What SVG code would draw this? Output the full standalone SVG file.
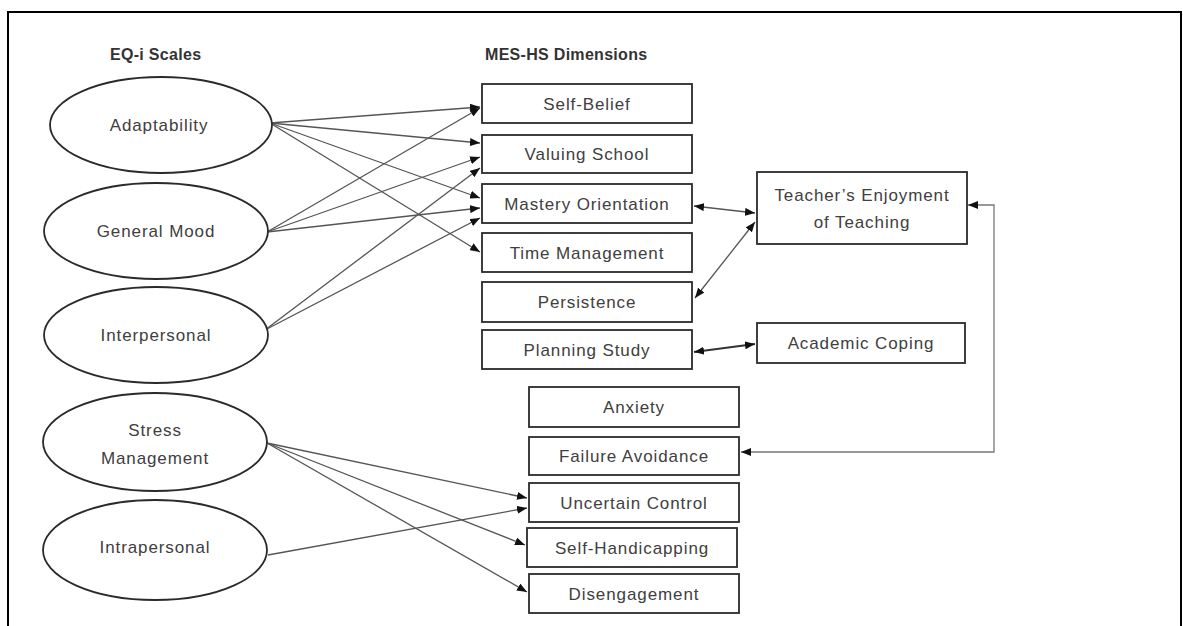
<svg xmlns="http://www.w3.org/2000/svg" width="1183" height="626" viewBox="0 0 1183 626">
<style>
.frame{fill:none;stroke:#000;stroke-width:2}
.ell{fill:#fff;stroke:#2a2a2a;stroke-width:1.8}
.box{fill:#fff;stroke:#2a2a2a;stroke-width:1.8}
.t{font-family:"Liberation Sans",Arial,sans-serif;font-size:17px;letter-spacing:0.9px;fill:#404040;text-anchor:middle}
.h{font-family:"Liberation Sans",Arial,sans-serif;font-size:16px;letter-spacing:0.3px;font-weight:bold;fill:#333}
.e{fill:none;stroke:#555;stroke-width:1.3}
.e2{fill:none;stroke:#333;stroke-width:2}
.e3{fill:none;stroke:#777;stroke-width:1.3}
</style>
<defs>
<marker id="ah" viewBox="0 0 10 8" refX="10" refY="4" markerWidth="10" markerHeight="8" markerUnits="userSpaceOnUse" orient="auto-start-reverse">
<path d="M0,0 L10,4 L0,8 Z" fill="#111"/>
</marker>
</defs>
<rect width="1183" height="626" fill="#fff"/>
<path class="frame" d="M8,626 V12 H1181 V626"/>
<text class="h" x="110" y="60">EQ-i Scales</text>
<text class="h" x="485" y="60">MES-HS Dimensions</text>

<g id="connectors">
<line class="e" x1="270" y1="123" x2="480" y2="107" marker-end="url(#ah)"/>
<line class="e" x1="270" y1="123" x2="480" y2="143" marker-end="url(#ah)"/>
<line class="e" x1="270" y1="123" x2="480" y2="198" marker-end="url(#ah)"/>
<line class="e" x1="270" y1="123" x2="480" y2="252" marker-end="url(#ah)"/>
<line class="e" x1="267" y1="232" x2="480" y2="108" marker-end="url(#ah)"/>
<line class="e" x1="267" y1="232" x2="480" y2="157" marker-end="url(#ah)"/>
<line class="e" x1="267" y1="232" x2="480" y2="208" marker-end="url(#ah)"/>
<line class="e" x1="265" y1="330" x2="480" y2="168" marker-end="url(#ah)"/>
<line class="e" x1="265" y1="330" x2="480" y2="218" marker-end="url(#ah)"/>
<line class="e" x1="267" y1="443" x2="527" y2="498" marker-end="url(#ah)"/>
<line class="e" x1="267" y1="443" x2="525" y2="545" marker-end="url(#ah)"/>
<line class="e" x1="267" y1="443" x2="527" y2="592" marker-end="url(#ah)"/>
<line class="e" x1="268" y1="555" x2="527" y2="508" marker-end="url(#ah)"/>
<line class="e" x1="694" y1="206" x2="755" y2="213" marker-start="url(#ah)" marker-end="url(#ah)"/>
<line class="e" x1="695" y1="298" x2="755" y2="222" marker-start="url(#ah)" marker-end="url(#ah)"/>
<line class="e2" x1="694" y1="352" x2="755" y2="344" marker-start="url(#ah)" marker-end="url(#ah)"/>
<path class="e3" d="M968,205 H994 V452 H741" marker-start="url(#ah)" marker-end="url(#ah)"/>
</g>

<g id="adaptability"><ellipse class="ell" cx="161" cy="125" rx="111" ry="48"/><text class="t" x="159" y="131">Adaptability</text></g>
<g id="general-mood"><ellipse class="ell" cx="156" cy="231" rx="112" ry="48"/><text class="t" x="156" y="237">General Mood</text></g>
<g id="interpersonal"><ellipse class="ell" cx="156" cy="335" rx="112" ry="48"/><text class="t" x="156" y="341">Interpersonal</text></g>
<g id="stress-management"><ellipse class="ell" cx="155" cy="442" rx="112" ry="49"/><text class="t" x="155" y="436">Stress</text><text class="t" x="155" y="464">Management</text></g>
<g id="intrapersonal"><ellipse class="ell" cx="155" cy="550" rx="112" ry="50"/><text class="t" x="155" y="553">Intrapersonal</text></g>

<g id="self-belief"><rect class="box" x="482" y="84" width="210" height="39"/><text class="t" x="587" y="110">Self-Belief</text></g>
<g id="valuing-school"><rect class="box" x="482" y="135" width="210" height="38"/><text class="t" x="587" y="160">Valuing School</text></g>
<g id="mastery-orientation"><rect class="box" x="482" y="184" width="210" height="39"/><text class="t" x="587" y="210">Mastery Orientation</text></g>
<g id="time-management"><rect class="box" x="482" y="233" width="210" height="39"/><text class="t" x="587" y="259">Time Management</text></g>
<g id="persistence"><rect class="box" x="482" y="282" width="210" height="40"/><text class="t" x="587" y="308">Persistence</text></g>
<g id="planning-study"><rect class="box" x="482" y="330" width="210" height="39"/><text class="t" x="587" y="356">Planning Study</text></g>
<g id="teachers-enjoyment"><rect class="box" x="757" y="172" width="210" height="72"/><text class="t" x="862" y="201">Teacher’s Enjoyment</text><text class="t" x="862" y="228">of Teaching</text></g>
<g id="academic-coping"><rect class="box" x="757" y="323" width="208" height="40"/><text class="t" x="861" y="349">Academic Coping</text></g>
<g id="anxiety"><rect class="box" x="529" y="387" width="210" height="40"/><text class="t" x="634" y="413">Anxiety</text></g>
<g id="failure-avoidance"><rect class="box" x="529" y="437" width="210" height="38"/><text class="t" x="634" y="462">Failure Avoidance</text></g>
<g id="uncertain-control"><rect class="box" x="529" y="483" width="210" height="39"/><text class="t" x="634" y="509">Uncertain Control</text></g>
<g id="self-handicapping"><rect class="box" x="527" y="528" width="210" height="39"/><text class="t" x="632" y="554">Self-Handicapping</text></g>
<g id="disengagement"><rect class="box" x="529" y="574" width="210" height="39"/><text class="t" x="634" y="600">Disengagement</text></g>
</svg>
